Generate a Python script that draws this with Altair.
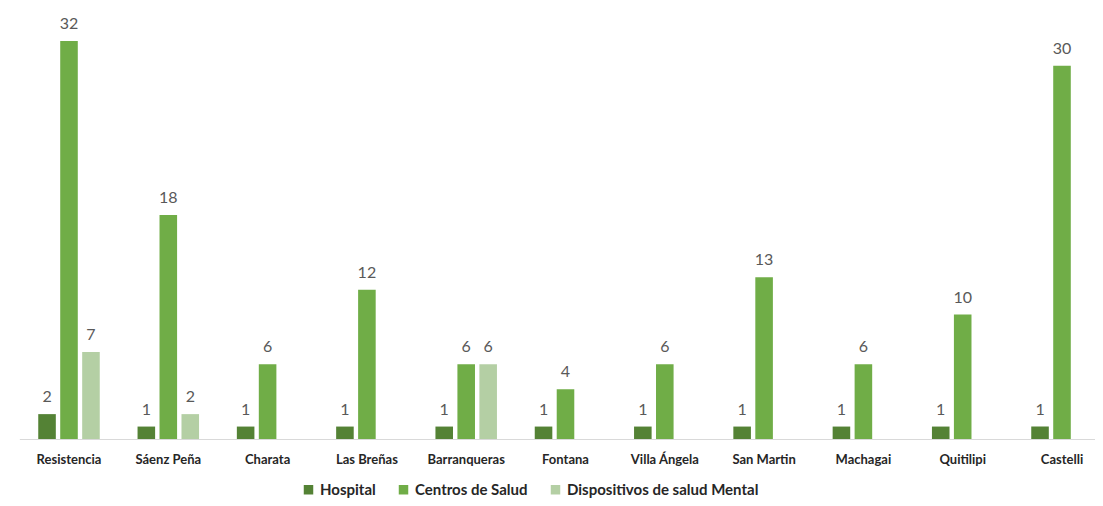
import altair as alt
import pandas as pd

categories = ["Resistencia", "Sáenz Peña", "Charata", "Las Breñas", "Barranqueras",
              "Fontana", "Villa Ángela", "San Martin", "Machagai", "Quitilipi", "Castelli"]
series = ["Hospital", "Centros de Salud", "Dispositivos de salud Mental"]
hospital = [2, 1, 1, 1, 1, 1, 1, 1, 1, 1, 1]
centros = [32, 18, 6, 12, 6, 4, 6, 13, 6, 10, 30]
mental = [7, 2, None, None, 6, None, None, None, None, None, None]
colors = ["#548235", "#70ad47", "#b4cfa4"]

rows = []
for s, vals in zip(series, [hospital, centros, mental]):
    for c, v in zip(categories, vals):
        if v is not None:
            rows.append({"cat": c, "serie": s, "val": v})
df = pd.DataFrame(rows)

W, H = 1087, 431
FONT = "Lato"

x = alt.X("cat:N", sort=categories, title=None,
          scale=alt.Scale(domain=categories, range=[11.35, 1103.65], paddingInner=0, paddingOuter=0),
          axis=alt.Axis(labelAngle=0, ticks=False, domainColor="#d9d9d9", domainWidth=1,
                        labelFont=FONT, labelFontSize=13, labelFontWeight="bold",
                        labelColor="#262626", labelPadding=14))
xo = alt.XOffset("serie:N", sort=series,
                 scale=alt.Scale(domain=series, paddingInner=0.2, paddingOuter=0.86))
y = alt.Y("val:Q", title=None,
          scale=alt.Scale(domain=[0, 34.65], nice=False, zero=True),
          axis=None)

base = alt.Chart(df)
bars = base.mark_bar().encode(
    x=x, xOffset=xo, y=y,
    color=alt.Color("serie:N", sort=series,
                    scale=alt.Scale(domain=series, range=colors),
                    legend=alt.Legend(title=None, orient="none", direction="horizontal",
                                      legendX=293, legendY=474, symbolType="square",
                                      symbolSize=90, symbolStrokeWidth=0, labelLimit=0,
                                      labelFont=FONT, labelFontSize=15, labelFontWeight="bold",
                                      labelColor="#262626", columnPadding=20, labelOffset=4)),
)
labels = base.mark_text(baseline="alphabetic", dy=-12, font=FONT, fontSize=16,
                        color="#595959").encode(
    x=x, xOffset=xo, y=y, text=alt.Text("val:Q")
)

chart = (bars + labels).properties(
    width=W, height=H,
    background="white",
    autosize=alt.AutoSizeParams(type="none"),
    padding={"left": 0, "top": 0, "right": 0, "bottom": 59},
).configure_view(strokeWidth=0, stroke="transparent")

chart.save("out.html", embed_options={"renderer": "svg", "actions": False})
